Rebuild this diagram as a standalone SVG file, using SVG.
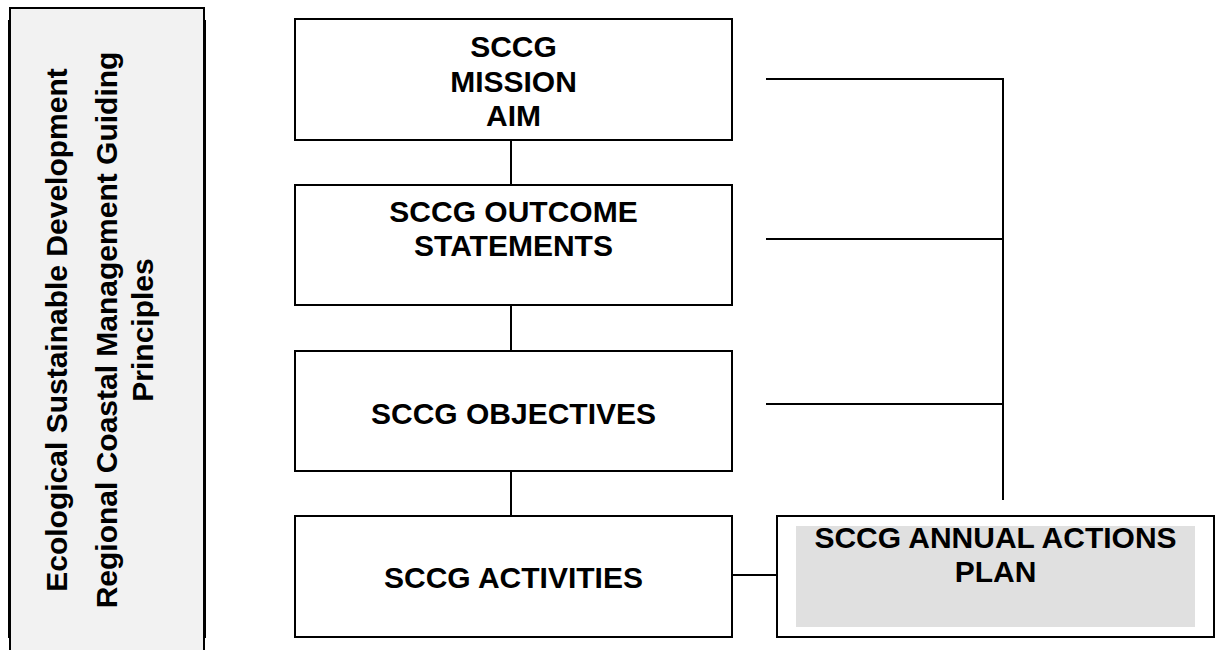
<svg xmlns="http://www.w3.org/2000/svg" width="1218" height="650" viewBox="0 0 1218 650">
<style>
.box{fill:#ffffff;stroke:#000;stroke-width:2}
.t{font-family:"Liberation Sans",Arial,sans-serif;font-weight:bold;font-size:30px;fill:#000;text-anchor:middle}
.c{stroke:#000;stroke-width:2;fill:none}
</style>
<rect width="1218" height="650" fill="#ffffff"/>
<g id="principles">
<rect x="10" y="8" width="194" height="660" fill="#f2f2f2" stroke="#000" stroke-width="2"/>
<line x1="9.5" y1="20" x2="9.5" y2="638" stroke="#000" stroke-width="3"/>
<line x1="204.5" y1="20" x2="204.5" y2="638" stroke="#000" stroke-width="3"/>
<text class="t" transform="translate(67,330) rotate(-90)">Ecological Sustainable Development</text>
<text class="t" transform="translate(117,330) rotate(-90)">Regional Coastal Management Guiding</text>
<text class="t" transform="translate(153,330) rotate(-90)">Principles</text>
</g>
<g id="connectors">
<line class="c" x1="511" y1="140" x2="511" y2="185"/>
<line class="c" x1="511" y1="305" x2="511" y2="351"/>
<line class="c" x1="511" y1="471" x2="511" y2="516"/>
<line class="c" x1="766" y1="79" x2="1004" y2="79"/>
<line class="c" x1="766" y1="239" x2="1003" y2="239"/>
<line class="c" x1="766" y1="404" x2="1003" y2="404"/>
<line class="c" x1="1003" y1="78" x2="1003" y2="500"/>
<line class="c" x1="733" y1="575" x2="777" y2="575"/>
</g>
<g id="mission">
<rect class="box" x="295" y="19" width="437" height="121"/>
<text class="t" x="513.5" y="57">SCCG</text>
<text class="t" x="513.5" y="92">MISSION</text>
<text class="t" x="513.5" y="126">AIM</text>
</g>
<g id="outcome">
<rect class="box" x="295" y="185" width="437" height="120"/>
<text class="t" x="513.5" y="222">SCCG OUTCOME</text>
<text class="t" x="513.5" y="256">STATEMENTS</text>
</g>
<g id="objectives">
<rect class="box" x="295" y="351" width="437" height="120"/>
<text class="t" x="513.5" y="424">SCCG OBJECTIVES</text>
</g>
<g id="activities">
<rect class="box" x="295" y="516" width="437" height="121"/>
<text class="t" x="513.5" y="588">SCCG ACTIVITIES</text>
</g>
<g id="annual">
<rect class="box" x="777" y="516" width="437" height="121"/>
<rect x="796" y="526" width="399" height="101" fill="#e0e0e0"/>
<text class="t" x="995.5" y="548">SCCG ANNUAL ACTIONS</text>
<text class="t" x="995.5" y="582">PLAN</text>
</g>
</svg>
